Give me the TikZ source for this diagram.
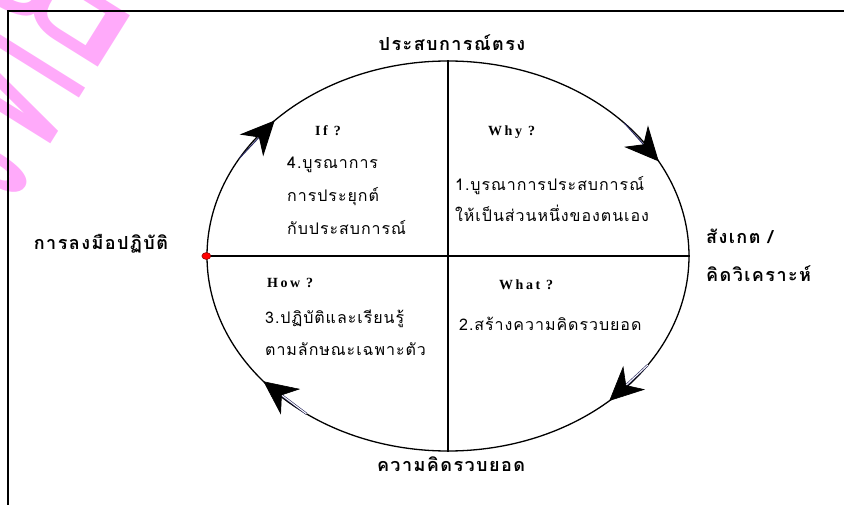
\documentclass[tikz,border=0pt]{standalone}
\usepackage{fontspec}
\usetikzlibrary{arrows.meta,shapes.geometric}
\setmainfont{Liberation Serif}
\newfontfamily\thai[Script=Thai]{Loma}
\newfontfamily\thaisp[Script=Thai,LetterSpace=6]{Loma}
\newfontfamily\thaispb[Script=Thai,LetterSpace=8]{Loma}
\newfontfamily\latsp[LetterSpace=18]{Liberation Serif}
\definecolor{wmpink}{RGB}{255,170,250}
\definecolor{navyline}{RGB}{40,40,95}
\tikzset{
  lbl/.style={font=\thaispb\bfseries\fontsize{18}{20}\selectfont, inner sep=0pt, text height=12pt, text depth=4pt},
  body/.style={font=\thaisp\fontsize{16}{18}\selectfont, anchor=west, inner sep=0pt, text height=11pt, text depth=4pt},
  qst/.style={font=\latsp\bfseries\fontsize{14}{16}\selectfont, anchor=west, inner sep=0pt, text height=9pt, text depth=0pt},
  shaft/.style={draw=navyline, line width=1pt},
  shafttwo/.style={draw=navyline, line width=0.6pt, double=white, double distance=1pt},
  bigtip/.style={-{Stealth[black,length=34pt,width=32pt,inset=11pt]}},
  wm/.style={text=wmpink, font=\thai\fontsize{300}{300}\selectfont, inner sep=0pt, rotate=58}
}
\begin{document}
\begin{tikzpicture}[x=1pt,y=-1pt]
\useasboundingbox (0,0) rectangle (844,505);
% watermark
\coordinate (wmp) at (38,164);
\node[wm, anchor=base west] (wma) at (wmp) {\scalebox{0.5}[1]{ทยาลัย}};
\node[wm, anchor=base east] (wmb) at (wmp) {\scalebox{0.5}[1]{มหาวิ}};
% frame
\coordinate (fbl) at (8,505);
\coordinate (ftl) at (8,11);
\coordinate (ftr) at (844,11);
\draw[line width=1.6pt] (fbl) -- (ftl) -- (ftr);
% cycle
\node[draw, ellipse, line width=1.3pt, minimum width=482pt, minimum height=390pt, inner sep=0pt] (cyc) at (448,256) {};
\draw[line width=1.3pt] (cyc.north) -- (cyc.south);
\draw[line width=1.3pt] (cyc.west) -- (cyc.east);
\node[ellipse, fill=red, draw=red!50!black, line width=0.5pt, minimum width=9pt, minimum height=7pt, inner sep=0pt] (dot) at (cyc.west) {};
% arrows
\coordinate (tlS) at ({448+241*cos(210)},{256+195*sin(210)});
\coordinate (tlT) at ({448+241*cos(224)},{256+195*sin(224)});
\coordinate (trS) at ({448+241*cos(317)},{256+195*sin(317)});
\coordinate (trT) at ({448+241*cos(331)},{256+195*sin(331)});
\coordinate (brS) at ({448+241*cos(34)},{256+195*sin(34)});
\coordinate (brT) at ({448+241*cos(48)},{256+195*sin(48)});
\coordinate (blS) at ({448+241*cos(126)},{256+195*sin(126)});
\coordinate (blT) at ({448+241*cos(140)},{256+195*sin(140)});
\draw[shaft, bigtip] (tlS) -- (tlT);
\draw[shaft, bigtip] (trS) -- (trT);
\draw[shafttwo, bigtip] (brS) -- (brT);
\draw[shafttwo, bigtip] (blS) -- (blT);
% outer labels
\node[lbl] (top) at (452,47) {ประสบการณ์ตรง};
\node[lbl] (left) at (101,246) {การลงมือปฏิบัติ};
\node[lbl, anchor=west] (right1) at (706,240) {สังเกต /};
\node[lbl, anchor=west] (right2) at (706,278) {คิดวิเคราะห์};
\node[lbl] (bottom) at (451,467) {ความคิดรวบยอด};
% quadrant texts
\node[qst] (qif) at (315,131) {If ?};
\node[body] (if1) at (287,165) {4.บูรณาการ};
\node[body] (if2) at (287,198) {การประยุกต์};
\node[body] (if3) at (287,231) {กับประสบการณ์};
\node[qst] (qwhy) at (488,131) {Why ?};
\node[body] (why1) at (455,187) {1.บูรณาการประสบการณ์};
\node[body] (why2) at (455,218) {ให้เป็นส่วนหนึ่งของตนเอง};
\node[qst] (qhow) at (267,283) {How ?};
\node[body] (how1) at (265,320) {3.ปฏิบัติและเรียนรู้};
\node[body] (how2) at (265,352) {ตามลักษณะเฉพาะตัว};
\node[qst] (qwhat) at (499,285) {What ?};
\node[body] (what1) at (459,327) {2.สร้างความคิดรวบยอด};
\end{tikzpicture}
\end{document}
